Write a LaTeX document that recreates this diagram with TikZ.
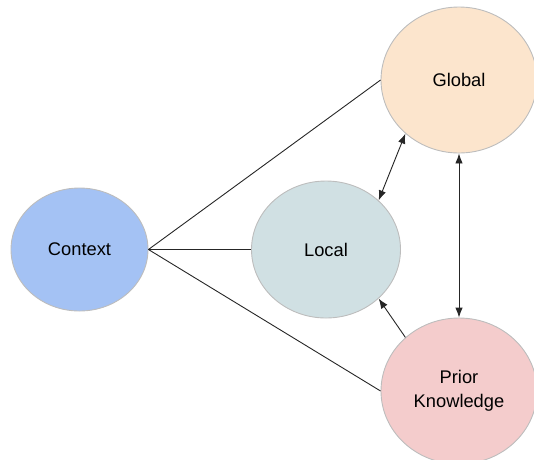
\documentclass[tikz,border=0pt]{standalone}
\usepackage{fontspec}
\setmainfont{Liberation Sans}
\usetikzlibrary{shapes.geometric,arrows.meta}
\definecolor{ctxc}{HTML}{A4C2F4}
\definecolor{globc}{HTML}{FCE5CD}
\definecolor{locc}{HTML}{D0E0E3}
\definecolor{priorc}{HTML}{F4CCCC}
\definecolor{bordc}{HTML}{BDBDBD}
\tikzset{
  bubble/.style={ellipse, draw=bordc, line width=0.9pt, inner sep=0pt, align=center, font=\fontsize{18.3}{23.5}\selectfont},
  link/.style={draw=black!85, line width=0.9pt},
  tip/.style={-{Latex[length=10pt,width=7.5pt]}},
  tips/.style={{Latex[length=10pt,width=7.5pt]}-{Latex[length=10pt,width=7.5pt]}}
}
\begin{document}
\begin{tikzpicture}[x=1pt,y=-1pt]
\useasboundingbox (0,0) rectangle (534,459);
\node[bubble, fill=ctxc, minimum width=137pt, minimum height=123pt] (ctx) at (79.5,249.5) {Context};
\node[bubble, fill=locc, minimum width=149pt, minimum height=137pt] (loc) at (326,249.5) {Local};
\node[bubble, fill=globc, minimum width=156pt, minimum height=146pt] (glob) at (459,80) {Global};
\node[bubble, fill=priorc, minimum width=156pt, minimum height=146pt] (prior) at (459,391) {Prior\\Knowledge};
\draw[link] (ctx.east) -- (glob.west);
\draw[link] (ctx.east) -- (loc.west);
\draw[link] (ctx.east) -- (prior.west);
\draw[link, tips] (loc.43.6) -- (glob.225.5);
\draw[link, tips] (glob.south) -- (prior.north);
\draw[link, tip] (prior.135.5) -- (loc.317.5);
\end{tikzpicture}
\end{document}
